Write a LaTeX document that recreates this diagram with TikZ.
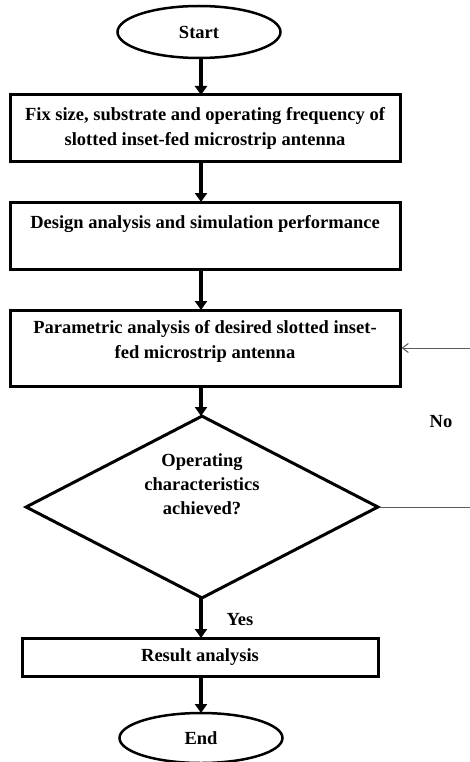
\documentclass[tikz,border=0pt]{standalone}
\usepackage{fontspec}
\setmainfont{Liberation Serif}
\usetikzlibrary{shapes.geometric,arrows.meta}
\begin{document}
\begin{tikzpicture}[x=1pt,y=-1pt,
  every node/.style={font=\fontsize{18.5}{25}\selectfont\bfseries, inner sep=0pt},
  term/.style={draw, ellipse, line width=2.5pt, minimum width=163pt},
  procbox/.style={draw, rectangle, line width=3pt, align=center},
  decis/.style={draw, diamond, line width=3pt, minimum width=353pt, minimum height=183pt},
  flow/.style={line width=4pt, -{Triangle[width=12pt,length=9pt]}},
  back/.style={line width=1pt, draw=black!65, -{Straight Barb[width=9pt,length=6pt]}},
  lbl/.style={font=\fontsize{18.5}{24}\selectfont\bfseries}
]
\useasboundingbox (0,0) rectangle (470,762);
\fill[white] (0,0) rectangle (470,762);

\node[term, minimum height=52pt] (start) at (199,32) {Start};
\node[procbox, minimum width=390pt, minimum height=67pt] (b1) at (205,128.5)
  {Fix size, substrate and operating frequency of\\slotted inset-fed microstrip antenna};
\node[procbox, minimum width=390pt, minimum height=67pt] (b2) at (205,235.5)
  {Design analysis and simulation performance\\[-5pt]\strut};
\node[procbox, minimum width=390pt, minimum height=76pt] (b3) at (205,348)
  {Parametric analysis of desired slotted inset-\\fed microstrip antenna\\[-15pt]\strut};
\node[decis, label={[lbl,align=center,yshift=23pt]center:{Operating\\characteristics\\achieved?}}] (d) at (202,507) {};
\node[procbox, minimum width=356pt, minimum height=38pt] (b4) at (200,657) {Result analysis};
\node[term, minimum height=50pt] (end) at (201,738) {End};

\node[lbl] (no) at (441,422) {No};
\node[lbl] (yes) at (240,620) {Yes};

\coordinate (t1) at (201,95);
\coordinate (t2) at (201,202);
\coordinate (t3) at (201,310);
\coordinate (t4) at (201,416);
\coordinate (t5) at (201,638);
\coordinate (t6) at (201,713);

\draw[flow] (201,58) -- (t1);
\draw[flow] (201,162) -- (t2);
\draw[flow] (201,269) -- (t3);
\draw[flow] (201,386) -- (t4);
\draw[flow] (201,598) -- (t5);
\draw[flow] (201,676) -- (t6);

\coordinate (fr) at (472,507);
\draw[back] (d.east) -- (fr) |- (b3.east);
\end{tikzpicture}
\end{document}
